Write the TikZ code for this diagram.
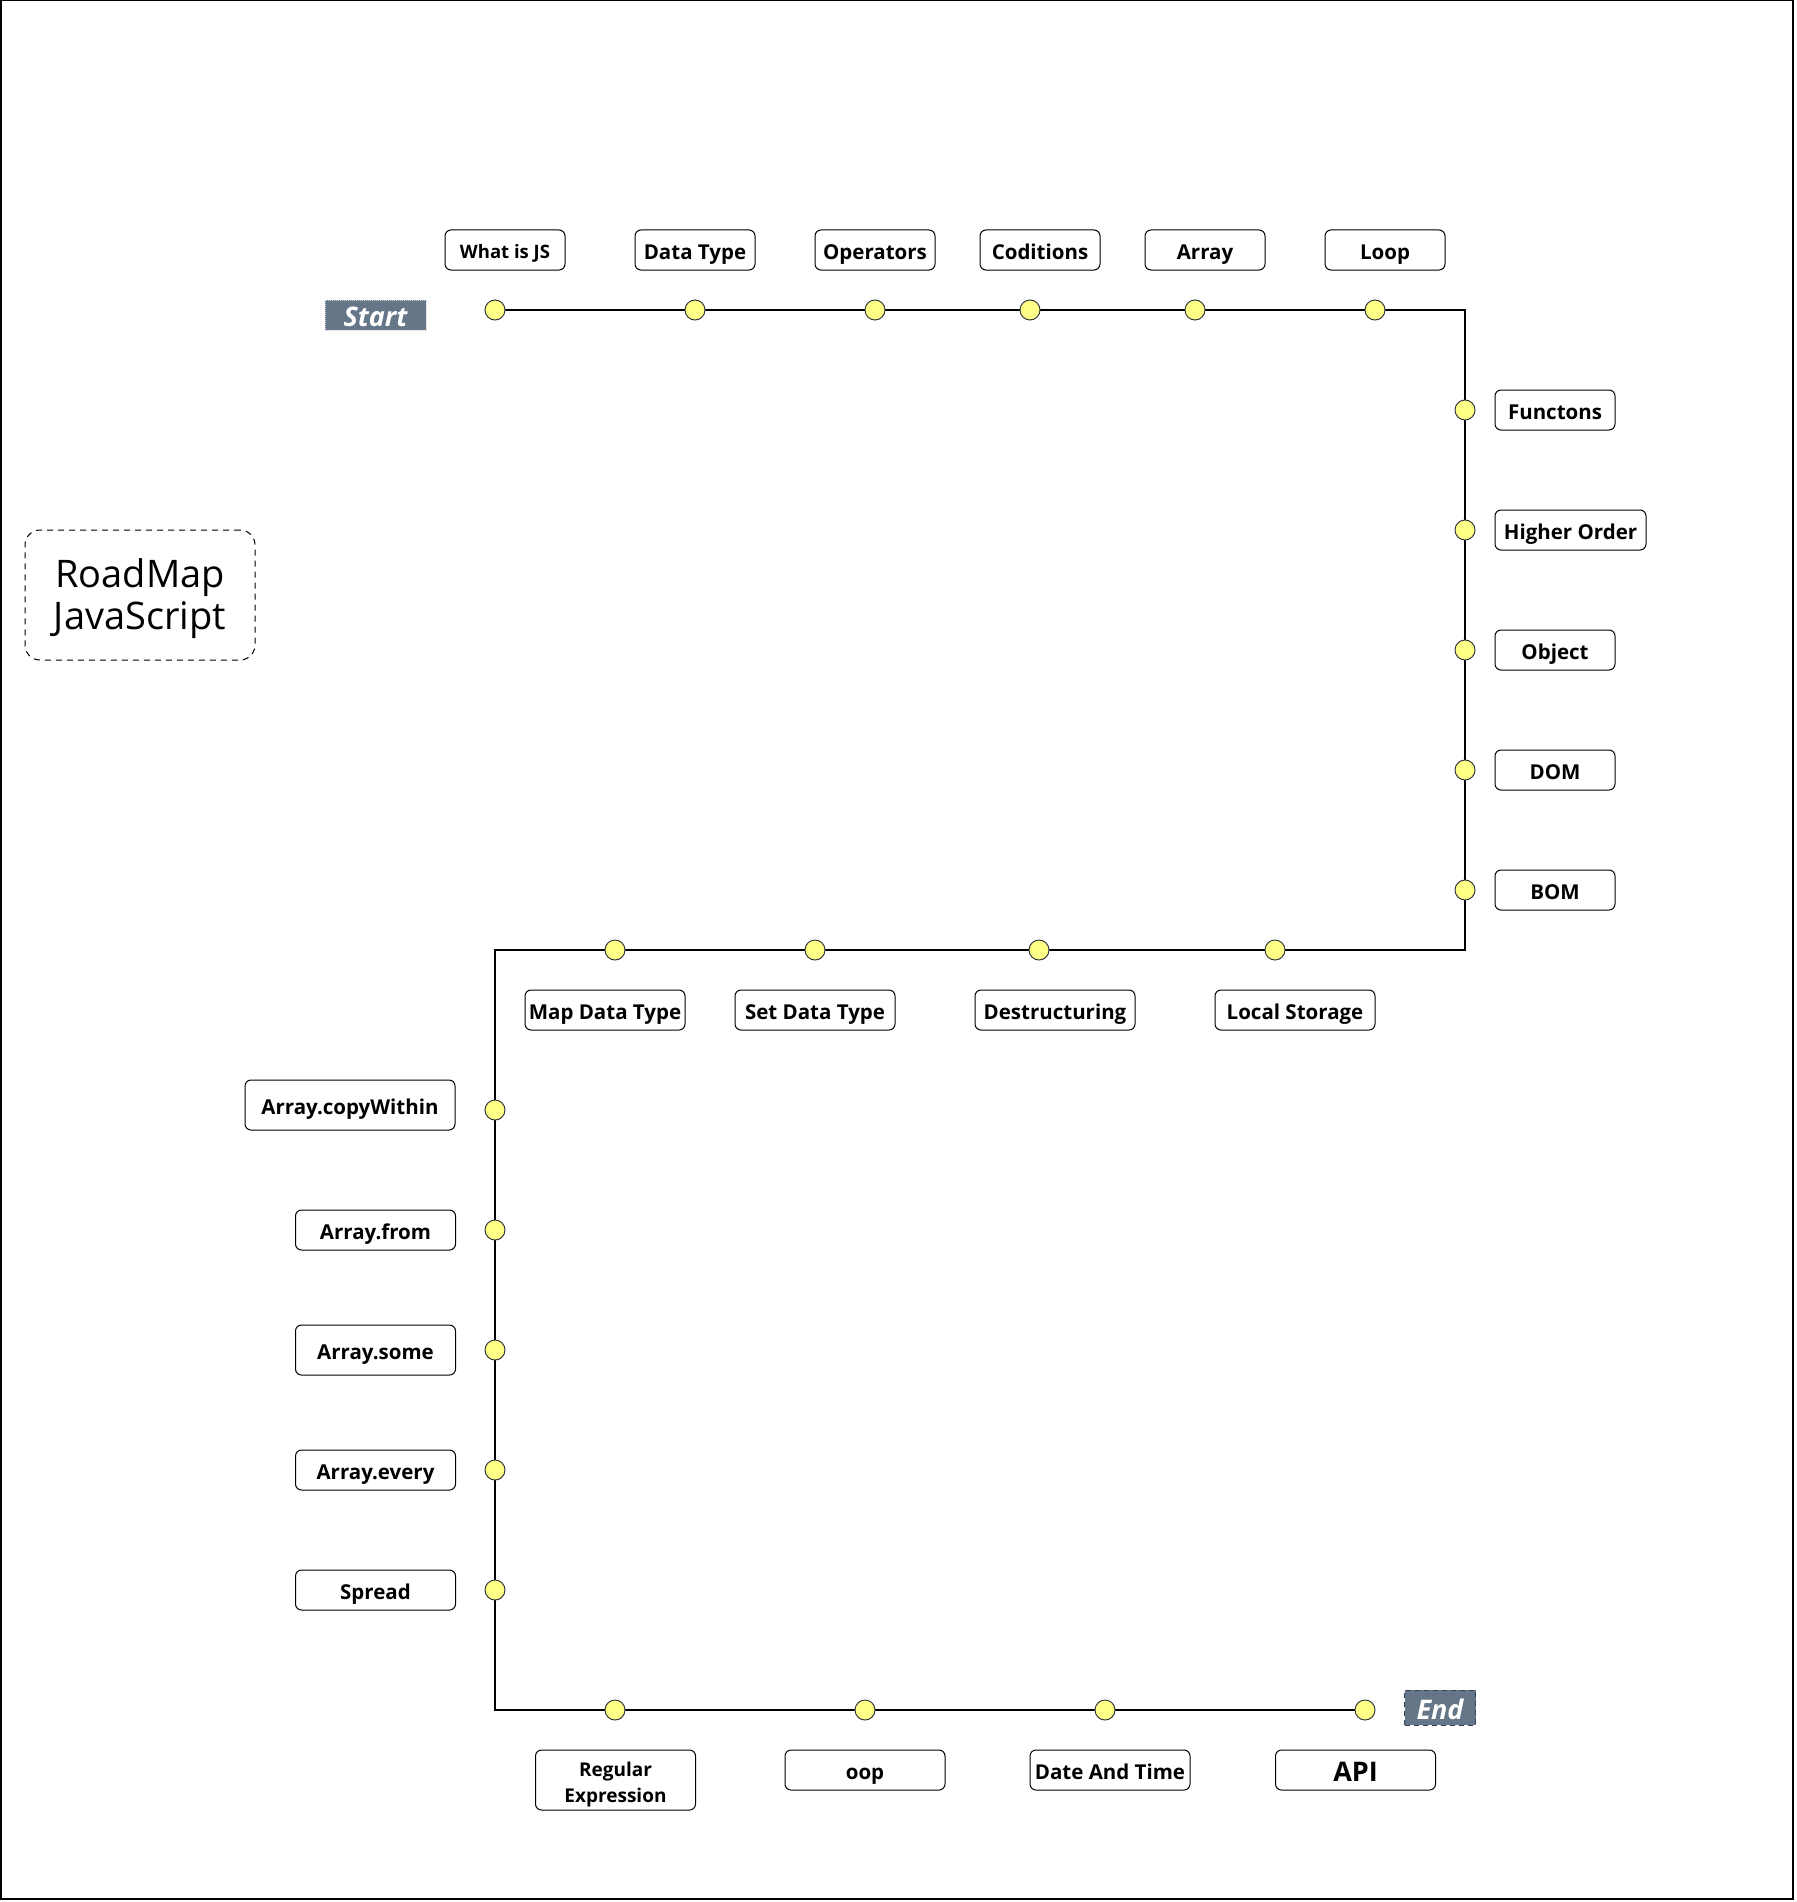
\documentclass[tikz,border=0pt]{standalone}
\usepackage{fontspec}
\setmainfont{Open Sans}
\usetikzlibrary{backgrounds}
\definecolor{dotfill}{HTML}{FFFF88}
\definecolor{dotline}{HTML}{36393D}
\definecolor{slate}{HTML}{647687}
\definecolor{slateline}{HTML}{314354}
\begin{document}
\begin{tikzpicture}[x=1pt,y=-1pt,
  lbl/.style={draw=black, line width=1pt, rounded corners=6pt, fill=white,
    minimum height=40pt, minimum width=120pt, inner sep=0pt, align=center,
    text height=18pt, text depth=0pt,
    font=\bfseries\fontsize{20.5}{25}\selectfont},
  wide/.style={minimum width=160pt},
  dot/.style={circle, draw=dotline, fill=dotfill, minimum size=20pt, inner sep=0pt, line width=1pt},
  flag/.style={fill=slate, text=white, inner sep=0pt, text depth=0pt,
    font=\bfseries\itshape\fontsize{27}{30}\selectfont},
  road/.style={draw=black, line width=1.2pt}]
\useasboundingbox (0,0) rectangle (1796,1902);
\draw[line width=1.5pt] (0.75,0.75) rectangle (1793,1899);

% title
\node[draw=black, dash pattern=on 6pt off 5pt, line width=1pt, rounded corners=15pt, minimum width=230pt,
  minimum height=130pt, align=center, text height=68pt, text depth=0pt,
  font=\fontsize{38}{42}\selectfont] (title) at (140,595) {RoadMap\\JavaScript};

% start / end
\node[flag, text height=22pt, draw=white!65!slate, densely dotted, line width=1pt, minimum width=101pt, minimum height=30pt] (start) at (375.5,315) {Start};
\node[flag, text height=24pt, draw=slateline, dash pattern=on 5pt off 4pt, line width=1pt, minimum width=71pt, minimum height=35pt] (end) at (1440,1707.5) {End};

% top row
\node[lbl, text height=16.5pt, font=\bfseries\fontsize{18.5}{22}\selectfont] (whatjs) at (505,250) {What is JS};
\node[lbl] (dtype) at (695,250) {Data Type};
\node[lbl] (ops) at (875,250) {Operators};
\node[lbl] (cond) at (1040,250) {Coditions};
\node[lbl] (arr) at (1205,250) {Array};
\node[lbl] (loop) at (1385,250) {Loop};

\node[dot] (t1) at (495,310) {};
\node[dot] (t2) at (695,310) {};
\node[dot] (t3) at (875,310) {};
\node[dot] (t4) at (1030,310) {};
\node[dot] (t5) at (1195,310) {};
\node[dot] (t6) at (1375,310) {};

% right column
\node[lbl] (func) at (1555,410) {Functons};
\node[lbl, minimum width=151pt] (hord) at (1570.5,530) {Higher Order};
\node[lbl] (obj) at (1555,650) {Object};
\node[lbl] (dom) at (1555,770) {DOM};
\node[lbl] (bom) at (1555,890) {BOM};

\node[dot] (r1) at (1465,410) {};
\node[dot] (r2) at (1465,530) {};
\node[dot] (r3) at (1465,650) {};
\node[dot] (r4) at (1465,770) {};
\node[dot] (r5) at (1465,890) {};

% middle row
\node[lbl, wide] (lstor) at (1295,1010) {Local Storage};
\node[lbl, wide] (destr) at (1055,1010) {Destructuring};
\node[lbl, wide] (setdt) at (815,1010) {Set Data Type};
\node[lbl, wide] (mapdt) at (605,1010) {Map Data Type};

\node[dot] (m1) at (1275,950) {};
\node[dot] (m2) at (1039,950) {};
\node[dot] (m3) at (815,950) {};
\node[dot] (m4) at (615,950) {};

% left column
\node[lbl, minimum width=210pt, minimum height=50pt] (copyw) at (350,1105) {Array.copyWithin};
\node[lbl, wide] (afrom) at (375.5,1230) {Array.from};
\node[lbl, wide, minimum height=50pt] (asome) at (375.5,1350) {Array.some};
\node[lbl, wide] (aevery) at (375.5,1470) {Array.every};
\node[lbl, wide] (spread) at (375.5,1590) {Spread};

\node[dot] (l1) at (495,1110) {};
\node[dot] (l2) at (495,1230) {};
\node[dot] (l3) at (495,1350) {};
\node[dot] (l4) at (495,1470) {};
\node[dot] (l5) at (495,1590) {};

% bottom row
\node[lbl, wide, minimum height=60pt, text height=44pt, font=\bfseries\fontsize{19}{25.5}\selectfont] (regex) at (615.5,1780) {Regular\\Expression};
\node[lbl, wide, text height=23.5pt, font=\bfseries\fontsize{27}{30}\selectfont] (api) at (1355.5,1770) {API};
\node[lbl, wide] (oop) at (865,1770) {oop};
\node[lbl, wide] (date) at (1110,1770) {Date And Time};

\node[dot] (b1) at (615,1710) {};
\node[dot] (b2) at (865,1710) {};
\node[dot] (b3) at (1105,1710) {};
\node[dot] (b4) at (1365,1710) {};

% corners of the road
\coordinate (k1) at (1465,310);
\coordinate (k2) at (1465,950);
\coordinate (k3) at (495,950);
\coordinate (k4) at (495,1710);

\begin{scope}[on background layer]
\draw[road] (t1.center) -- (k1) -- (k2) -- (k3) -- (k4) -- (b4.center);
\end{scope}
\end{tikzpicture}
\end{document}
